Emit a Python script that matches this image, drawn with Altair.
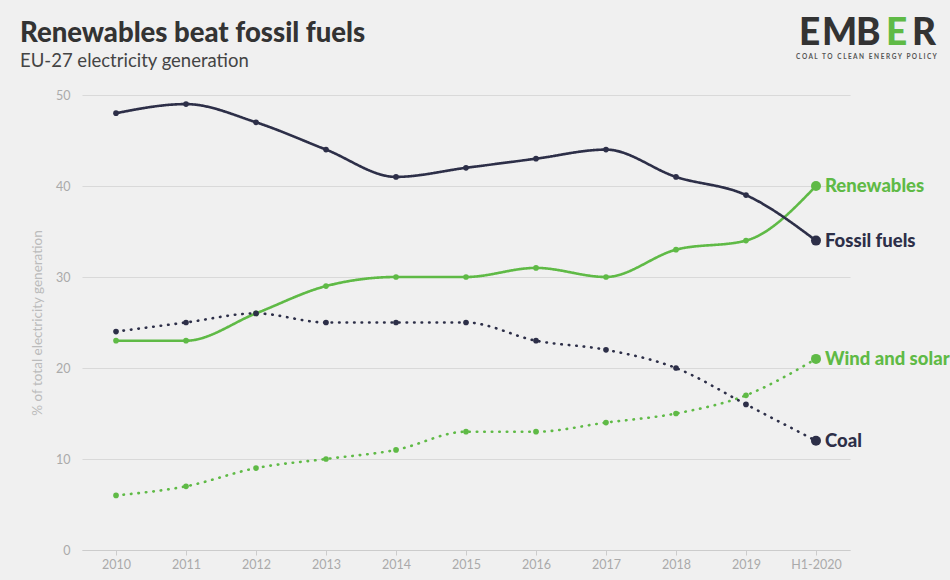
import altair as alt
import pandas as pd

years = ["2010", "2011", "2012", "2013", "2014", "2015", "2016", "2017", "2018", "2019", "H1-2020"]
fossil = [48, 49, 47, 44, 41, 42, 43, 44, 41, 39, 34]
renewables = [23, 23, 26, 29, 30, 30, 31, 30, 33, 34, 40]
coal = [24, 25, 26, 25, 25, 25, 23, 22, 20, 16, 12]
wind_solar = [6, 7, 9, 10, 11, 13, 13, 14, 15, 17, 21]

series_names = ["Renewables", "Fossil fuels", "Wind and solar", "Coal"]
series_values = [renewables, fossil, wind_solar, coal]
series_style = ["solid", "solid", "dotted", "dotted"]
series_colors = ["#5fba46", "#2d2f48", "#5fba46", "#2d2f48"]

rows = []
for name, vals, sty in zip(series_names, series_values, series_style):
    for y, v in zip(years, vals):
        rows.append({"series": name, "year": y, "value": v, "style": sty})
df = pd.DataFrame(rows)

FONT = "Lato"
x_enc = alt.X("year:O", sort=years, scale=alt.Scale(type="point", padding=0.486),
              axis=alt.Axis(title=None, labelAngle=0, grid=False, domainColor="#cccccc",
                            tickColor="#cccccc", tickSize=5, labelColor="#aaaaaa",
                            labelFontSize=12.5, labelPadding=3, labelFont=FONT))
y_enc = alt.Y("value:Q", scale=alt.Scale(domain=[0, 50], nice=False, zero=True),
              axis=alt.Axis(title="% of total electricity generation", values=[0, 10, 20, 30, 40, 50],
                            grid=True, gridColor="#d9d9d9", domain=False, ticks=False,
                            labelColor="#aaaaaa", labelFontSize=12.5, labelPadding=12,
                            titleColor="#bbbbbb", titleFontSize=13.5, titleFontWeight="normal",
                            titlePadding=11, labelFont=FONT, titleFont=FONT))
color_enc = alt.Color("series:N", scale=alt.Scale(domain=series_names, range=series_colors), legend=None)

base = alt.Chart(df)

lines = base.mark_line(interpolate="monotone", strokeWidth=2.6, strokeCap="round").encode(
    x=x_enc, y=y_enc, color=color_enc,
    strokeDash=alt.StrokeDash("style:N", scale=alt.Scale(domain=["solid", "dotted"], range=[[1, 0], [0.5, 7]]), legend=None),
    detail="series:N",
)
pts = base.mark_circle(size=32, opacity=1).encode(x=x_enc, y=y_enc, color=color_enc).transform_filter(
    alt.datum.year != "H1-2020")
end_pts = base.mark_circle(size=100, opacity=1).encode(x=x_enc, y=y_enc, color=color_enc).transform_filter(
    alt.datum.year == "H1-2020")
end_labels = base.mark_text(align="left", baseline="middle", dx=9, fontSize=18.5, fontWeight=900, font=FONT).encode(
    x=x_enc, y=y_enc, color=color_enc, text="series:N").transform_filter(alt.datum.year == "H1-2020")

def txt(s, x, y, size, color, weight="bold", baseline="alphabetic"):
    return alt.Chart(pd.DataFrame({"t": [s]})).mark_text(
        align="left", baseline=baseline, fontSize=size, fontWeight=weight, color=color, font=FONT
    ).encode(x=alt.value(x), y=alt.value(y), text="t:N")

title = txt("Renewables beat fossil fuels", -62, -53, 27.5, "#333333", weight=900)
subtitle = txt("EU-27 electricity generation", -62, -28, 18.5, "#444444", weight="normal")

NB = "\u00a0"
tagline = (NB * 3).join(NB.join(w) for w in "COAL TO CLEAN ENERGY POLICY".split(" "))

logo = [
    txt("E", 717, -50, 37, "#333333", weight=900),
    txt("M", 740, -50, 37, "#333333", weight=900),
    txt("B", 774, -50, 37, "#333333", weight=900),
    txt("E", 804, -50, 37, "#5fba46", weight=900),
    txt("R", 830, -50, 37, "#333333", weight=900),
    txt(tagline, 714, -36, 6.5, "#555555"),
]

chart = alt.layer(lines, pts, end_pts, end_labels, title, subtitle, *logo).properties(
    width=768, height=455,
    autosize=alt.AutoSizeParams(type="none"),
    padding={"left": 82, "top": 95, "right": 100, "bottom": 30},
    background="#f0f0f0",
).configure_view(stroke=None)

chart.save("out.html", embed_options={"renderer": "svg", "actions": False})
